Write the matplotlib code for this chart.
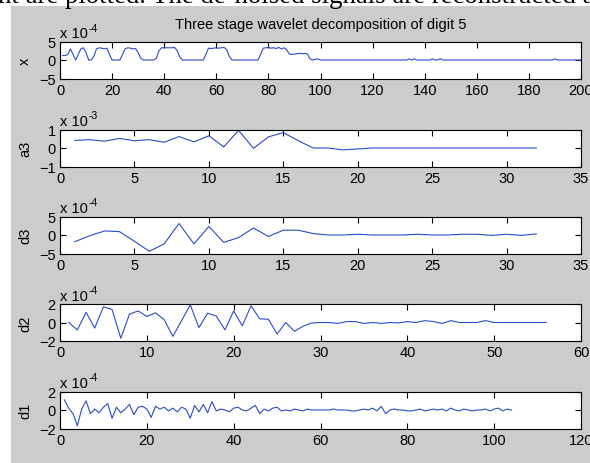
"""Decomposicao wavelet em tres estagios do digito 5 (estilo MATLAB)."""
import matplotlib
matplotlib.use("Agg")
import matplotlib.pyplot as plt
from matplotlib.patches import Rectangle
import numpy as np

# sinal original (x 1e-4), amostras 1..200
x_sig = [
    1.2, 1.2, 1.5, 3.0, 1.5, 0.0, 1.5, 3.0, 3.3, 2.0,
    0.0, 0.0, 1.0, 3.0, 3.3, 3.2, 3.0, 3.2, 1.5, 0.0,
    0.0, 0.0, 0.0, 1.5, 3.0, 3.3, 3.2, 3.0, 3.1, 2.0,
    0.5, 0.0, 0.0, 0.0, 0.0, 0.0, 0.5, 2.5, 3.3, 3.3,
    3.3, 3.3, 3.3, 3.4, 2.5, 0.8, 0.0, 0.0, 0.0, 0.0,
    0.0, 0.0, 0.0, 0.0, 0.0, 1.5, 3.2, 3.1, 3.2, 3.3,
    3.2, 3.3, 3.4, 2.8, 1.0, 0.0, 0.0, 0.0, 0.0, 0.0,
    0.0, 0.0, 0.0, 0.0, 0.0, 0.0, 1.5, 3.2, 3.3, 3.4,
    3.2, 3.3, 3.1, 3.4, 3.0, 3.3, 2.8, 1.6, 1.5, 1.6,
    1.7, 1.8, 1.7, 1.8, 1.6, 0.3, 0.0, 0.2, 0.3, 0.0,
    0.0, 0.0, 0.0, 0.0, 0.0, 0.0, 0.0, 0.0, 0.0, 0.0,
    0.0, 0.0, 0.0, 0.0, 0.0, 0.0, 0.0, 0.0, 0.0, 0.0,
    0.0, 0.0, 0.0, 0.0, 0.0, 0.0, 0.0, 0.0, 0.0, 0.0,
    0.0, 0.0, 0.0, 0.3, 0.0, 0.3, 0.0, 0.0, 0.0, 0.0,
    0.0, 0.0, 0.3, 0.0, 0.0, 0.3, 0.0, 0.0, 0.0, 0.0,
    0.0, 0.0, 0.0, 0.0, 0.0, 0.0, 0.0, 0.0, 0.0, 0.0,
    0.0, 0.0, 0.0, 0.0, 0.0, 0.0, 0.0, 0.0, 0.0, 0.0,
    0.0, 0.0, 0.0, 0.0, 0.0, 0.0, 0.0, 0.0, 0.0, 0.0,
    0.0, 0.0, 0.0, 0.0, 0.0, 0.0, 0.0, 0.0, 0.0, 0.3,
    0.0, 0.0, 0.0, 0.0, 0.0, 0.0, 0.0, 0.0, 0.0, 0.0,
]

# aproximacao nivel 3 (x 1e-3), 32 coeficientes
a3 = [
    0.41, 0.45, 0.37, 0.52, 0.39, 0.45, 0.31, 0.62, 0.33, 0.66,
    0.06, 0.95, -0.02, 0.60, 0.83, 0.40, 0.0, 0.0, -0.10, -0.05,
    0.0, 0.0, 0.0, 0.0, 0.0, 0.0, 0.0, 0.0, 0.0, 0.0,
    0.0, 0.0,
]

# detalhe nivel 3 (x 1e-4), 32 coeficientes
d3 = [
    -1.8, -0.2, 1.1, 0.9, -1.7, -4.4, -2.4, 3.1, -2.4, 2.3,
    -2.0, -0.7, 1.9, -0.4, 1.3, 1.3, 0.4, 0.0, 0.0, 0.2,
    0.0, 0.0, 0.0, 0.2, 0.0, 0.0, 0.2, 0.2, -0.1, 0.2,
    -0.1, 0.3,
]

# detalhe nivel 2 (x 1e-4), 56 coeficientes
d2 = [
    0.0, -0.8, 1.1, -0.6, 1.7, 1.4, -1.7, 0.9, 1.25, 0.65,
    1.05, 0.3, -1.5, 0.2, 1.9, -0.55, 1.0, 0.7, -0.8, 1.25,
    -0.35, 1.8, 0.4, 0.35, -1.25, 0.0, -0.95, -0.4, -0.05, 0.0,
    0.0, -0.1, 0.1, 0.1, -0.1, 0.0, -0.1, 0.0, -0.05, 0.1,
    0.0, 0.2, 0.1, -0.1, 0.2, 0.0, 0.0, 0.0, 0.2, 0.0,
    0.0, 0.0, 0.0, 0.0, 0.0, 0.0,
]

# detalhe nivel 1 (x 1e-4), 104 coeficientes
d1 = [
    1.1, 0.2, -0.4, -1.7, 0.1, 1.0, -0.4, 0.1, -0.3, 0.3,
    0.7, -0.9, 0.3, -0.3, 0.1, 0.6, -0.5, 0.3, 0.4, 0.1,
    -0.8, 0.4, 0.1, 0.3, -0.1, 0.2, -0.2, 0.3, 0.1, -0.9,
    0.5, -0.2, 0.6, -0.3, 0.9, -0.1, 0.1, 0.0, -0.2, 0.2,
    0.3, 0.0, -0.1, 0.2, 0.5, -0.4, 0.1, -0.1, 0.2, 0.3,
    -0.1, 0.0, -0.1, 0.1, 0.0, -0.1, 0.1, 0.0, 0.0, 0.0,
    0.0, 0.0, 0.1, 0.0, 0.0, 0.0, -0.1, -0.1, 0.0, 0.1,
    0.0, 0.2, -0.1, 0.4, -0.4, 0.0, 0.1, 0.0, 0.0, -0.1,
    -0.1, 0.0, 0.1, -0.1, 0.0, 0.1, 0.0, 0.1, -0.1, 0.2,
    0.0, -0.1, 0.1, 0.0, -0.1, 0.0, 0.0, 0.1, -0.1, 0.1,
    0.2, -0.1, 0.1, 0.0,
]

rotulos = ["x", "a3", "d3", "d2", "d1"]
series = [x_sig, a3, d3, d2, d1]
expoentes = ["-4", "-3", "-4", "-4", "-4"]
lim_y = [5, 1, 5, 2, 2]
lim_x = [200, 35, 35, 60, 120]
passo_x = [20, 5, 5, 10, 20]

plt.rcParams["font.family"] = ["Liberation Sans", "DejaVu Sans"]

W, H = 590, 464
fig = plt.figure(figsize=(W / 100, H / 100), dpi=100, facecolor="white")

# fundo cinza da figura do MATLAB
fig.patches.append(Rectangle((11 / W, 0), 1 - 11 / W, 1 - 7 / H,
                             transform=fig.transFigure, facecolor=(0.8, 0.8, 0.8),
                             edgecolor="none", zorder=-10))
# pedaco do texto da pagina, cortado no topo
fig.text(-2 / W, 1 - 3 / H, "nt are plotted. The de-noised signals are reconstructed a",
         family="Liberation Serif", fontsize=19.3, va="baseline", ha="left")

topos = [42.5, 130.5, 217.5, 305, 392.5]
alt = 37
esq, dir_ = 60, 581
cor = "#2b4bc8"

for k in range(5):
    base = 1 - (topos[k] + alt) / H
    ax = fig.add_axes([esq / W, base, (dir_ - esq) / W, alt / H])
    y = np.asarray(series[k])
    xs = np.arange(1, len(y) + 1)
    ax.plot(xs, y, color=cor, linewidth=0.8)
    ax.set_xlim(0, lim_x[k])
    ax.set_ylim(-lim_y[k], lim_y[k])
    ax.set_xticks(np.arange(0, lim_x[k] + 1, passo_x[k]))
    ax.set_yticks([-lim_y[k], 0, lim_y[k]])
    ax.tick_params(direction="in", length=4, width=0.8, top=True, right=True,
                   labelsize=10.5, pad=3, colors="black")
    for s in ax.spines.values():
        s.set_linewidth(0.8)
    ax.set_facecolor("white")
    ax.text(0, 1 + 8 / alt, "x 10", transform=ax.transAxes, fontsize=10.5,
            ha="left", va="center")
    ax.text(29 / (dir_ - esq), 1 + 14 / alt, expoentes[k], transform=ax.transAxes,
            fontsize=7.5, ha="left", va="center")
    fig.text(25 / W, base + alt / 2 / H, rotulos[k], rotation=90, fontsize=10.5,
             ha="center", va="center")
    if k == 0:
        fig.text((esq + dir_) / 2 / W, 1 - 25 / H,
                 "Three stage wavelet decomposition of digit 5",
                 fontsize=10.5, ha="center", va="center")

fig.savefig("out.png", dpi=100, facecolor=fig.get_facecolor())
